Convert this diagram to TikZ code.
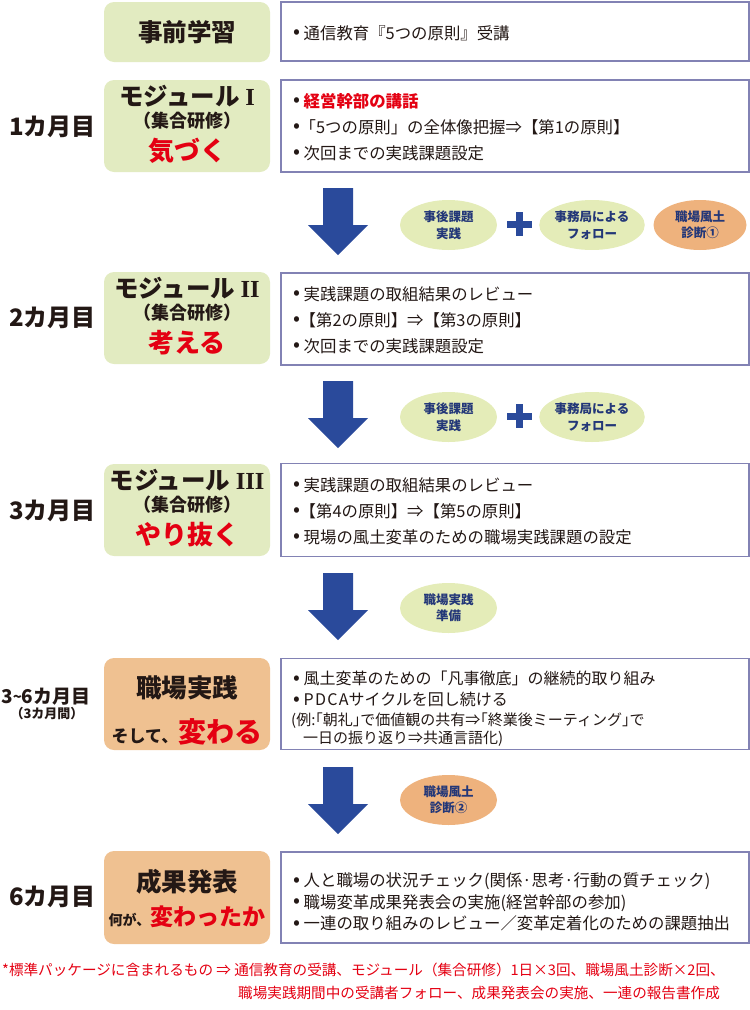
\documentclass[tikz,border=0pt]{standalone}
\usepackage{fontspec}
\setmainfont{Noto Sans CJK JP}
\newfontfamily\romfont{Liberation Serif}
\usetikzlibrary{shapes.geometric}
\definecolor{greenbox}{RGB}{226,235,193}
\definecolor{orangebox}{RGB}{239,193,145}
\definecolor{greenell}{RGB}{228,236,184}
\definecolor{orangeell}{RGB}{238,178,125}
\definecolor{navy}{RGB}{35,55,120}
\definecolor{arrowblue}{RGB}{42,74,155}
\definecolor{framecol}{RGB}{130,130,180}
\definecolor{redtxt}{RGB}{228,0,18}
\definecolor{ink}{RGB}{35,24,21}
\newcommand\bl{\makebox[10.5pt][l]{\raisebox{0.05ex}{\scalebox{1.25}{•}}}}
\newcommand\bk{\hspace*{-4pt}}
\newcommand\bigarrow[1]{\fill[arrowblue] (#1) ++(-15,0) -- ++(30,0) -- ++(0,37) -- ++(15,0) -- ++(-30,30) -- ++(-30,-30) -- ++(15,0) -- cycle;}
\begin{document}
\begin{tikzpicture}[x=1pt,y=-1pt,
  lbox/.style={rounded corners=10pt, minimum width=166pt, inner sep=0pt},
  gbox/.style={lbox, fill=greenbox},
  obox/.style={lbox, fill=orangebox},
  rbox/.style={draw=framecol, line width=1.8pt, fill=white, minimum width=468pt, inner sep=0pt},
  rtext/.style={anchor=west, inner sep=0pt, text width=452pt, align=left, text=ink, font=\fontsize{16.4}{26}\selectfont},
  month/.style={anchor=east, inner sep=0pt, text=ink, font=\fontsize{24}{24}\selectfont\bfseries},
  head/.style={inner sep=0pt, text=ink, font=\fontsize{24.5}{26}\selectfont\bfseries},
  sub/.style={inner sep=0pt, text=ink, font=\fontsize{18}{20}\selectfont\bfseries},
  key/.style={inner sep=0pt, text=redtxt, font=\fontsize{26}{28}\selectfont\bfseries},
  ell/.style={ellipse, minimum width=97pt, minimum height=50pt, inner sep=0pt, align=center, text=navy, font=\fontsize{12.5}{16.5}\selectfont\bfseries},
  gell/.style={ell, fill=greenell},
  oell/.style={ell, fill=orangeell},
  note/.style={anchor=west, inner sep=0pt, text=redtxt, font=\fontsize{14.6}{16}\selectfont}
]
\useasboundingbox (0,0) rectangle (750,1010);

% ---------- row 0 ----------
\node[gbox, minimum height=60pt] (l0) at (187,32) {};
\node[head] (h0) at (187,32) {事前学習};
\node[rbox, minimum height=59pt] (r0) at (515,31.5) {};
\node[rtext] (t0) at (293,33) {\bl 通信教育『5つの原則』受講};

% ---------- row 1 ----------
\node[month] (m1) at (96,127) {1カ月目};
\node[gbox, minimum height=92pt] (l1) at (187,126) {};
\node[head] (h1) at (187,96) {モジュール {\romfont\bfseries I}};
\node[sub] (s1) at (187,121) {（集合研修）};
\node[key] (k1) at (187,151) {気づく};
\node[rbox, minimum height=92pt] (r1) at (515,126) {};
\node[rtext] (t1) at (293,127) {\bl{\color{redtxt}\bfseries 経営幹部の講話}\\\bl\bk「5つの原則」の全体像把握⇒【第1の原則】\\\bl 次回までの実践課題設定};

% arrow 1 + ellipses
\bigarrow{338,188}
\node[gell] (e11) at (448.5,225) {事後課題\\実践};
\fill[arrowblue] (507,220.5) rectangle (532,227.5);
\fill[arrowblue] (516,212) rectangle (523,236);
\node[gell, minimum width=99pt] (e12) at (592,225) {事務局による\\フォロー};
\node[oell, minimum width=93pt] (e13) at (700,225) {職場風土\\診断①};

% ---------- row 2 ----------
\node[month] (m2) at (96,318) {2カ月目};
\node[gbox, minimum height=92pt] (l2) at (187,318) {};
\node[head] (h2) at (187,288) {モジュール {\romfont\bfseries II}};
\node[sub] (s2) at (187,313) {（集合研修）};
\node[key] (k2) at (187,343) {考える};
\node[rbox, minimum height=92pt] (r2) at (515,319) {};
\node[rtext] (t2) at (293,320) {\bl 実践課題の取組結果のレビュー\\\bl\bk【第2の原則】⇒【第3の原則】\\\bl 次回までの実践課題設定};

% arrow 2 + ellipses
\bigarrow{338,381}
\node[gell] (e21) at (448.5,417) {事後課題\\実践};
\fill[arrowblue] (507,412.5) rectangle (532,419.5);
\fill[arrowblue] (516,404) rectangle (523,428);
\node[gell, minimum width=99pt] (e22) at (592,417) {事務局による\\フォロー};

% ---------- row 3 ----------
\node[month] (m3) at (96,511) {3カ月目};
\node[gbox, minimum height=92pt] (l3) at (187,510) {};
\node[head] (h3) at (187,480) {モジュール {\romfont\bfseries III}};
\node[sub] (s3) at (187,505) {（集合研修）};
\node[key] (k3) at (187,535) {やり抜く};
\node[rbox, minimum height=93pt] (r3) at (515,510) {};
\node[rtext] (t3) at (293,511) {\bl 実践課題の取組結果のレビュー\\\bl\bk【第4の原則】⇒【第5の原則】\\\bl 現場の風土変革のための職場実践課題の設定};

% arrow 3 + ellipse
\bigarrow{338,573}
\node[gell] (e31) at (448.5,608) {職場実践\\準備};

% ---------- row 4 ----------
\node[anchor=west, inner sep=0pt, text=ink, font=\fontsize{19}{19}\selectfont\bfseries] (m4) at (1,697) {3\raisebox{0.15ex}{\fontsize{15}{15}\selectfont\textasciitilde}6カ月目};
\node[inner sep=0pt, text=ink, font=\fontsize{13}{13}\selectfont\bfseries] (m4b) at (47,714) {（3カ月間）};
\node[obox, minimum height=92pt] (l4) at (187,704) {};
\node[head, font=\fontsize{25.5}{27}\selectfont\bfseries] (h4) at (187,688) {職場実践};
\node[inner sep=0pt, anchor=base, text=ink] (k4) at (187,742) {{\fontsize{17}{18}\selectfont\bfseries そして、}{\color{redtxt}\fontsize{28}{30}\selectfont\bfseries 変わる}};
\node[rbox, minimum height=91pt] (r4) at (515,704) {};
\node[rtext, font=\fontsize{16}{21}\selectfont] (t4) at (293,709) {\bl 風土変革のための「凡事徹底」の継続的取り組み\\[0pt]\bl {\addfontfeature{LetterSpace=8}PDCA}サイクルを回し続ける\\[-1pt]{\fontsize{15}{18}\selectfont\hspace*{-2pt}(例:｢朝礼｣で価値観の共有⇒｢終業後ミーティング｣で}\\[-3pt]{\fontsize{15}{18}\selectfont\hspace*{10pt}一日の振り返り⇒共通言語化)}};

% arrow 4 + ellipse
\bigarrow{338,767}
\node[oell] (e41) at (448.5,800) {職場風土\\診断②};

% ---------- row 5 ----------
\node[month] (m5) at (96,897) {6カ月目};
\node[obox, minimum height=93pt] (l5) at (187,897.5) {};
\node[head, font=\fontsize{25.5}{27}\selectfont\bfseries] (h5) at (187,882) {成果発表};
\node[inner sep=0pt, anchor=base, text=ink] (k5) at (187,925) {{\fontsize{14}{15}\selectfont\bfseries 何が、}{\color{redtxt}\fontsize{23}{25}\selectfont\bfseries 変わったか}};
\node[rbox, minimum height=91pt] (r5) at (515,897.5) {};
\node[rtext, font=\fontsize{16.4}{21.5}\selectfont] (t5) at (293,902) {\bl 人と職場の状況チェック(関係·思考·行動の質チェック)\\\bl 職場変革成果発表会の実施(経営幹部の参加)\\\bl 一連の取り組みのレビュー／変革定着化のための課題抽出};

% ---------- footnote ----------
\node[note] (n1) at (2,970) {*標準パッケージに含まれるもの ⇒ 通信教育の受講、モジュール（集合研修）1日×3回、職場風土診断×2回、};
\node[note] (n2) at (238,993) {職場実践期間中の受講者フォロー、成果発表会の実施、一連の報告書作成};
\end{tikzpicture}
\end{document}
